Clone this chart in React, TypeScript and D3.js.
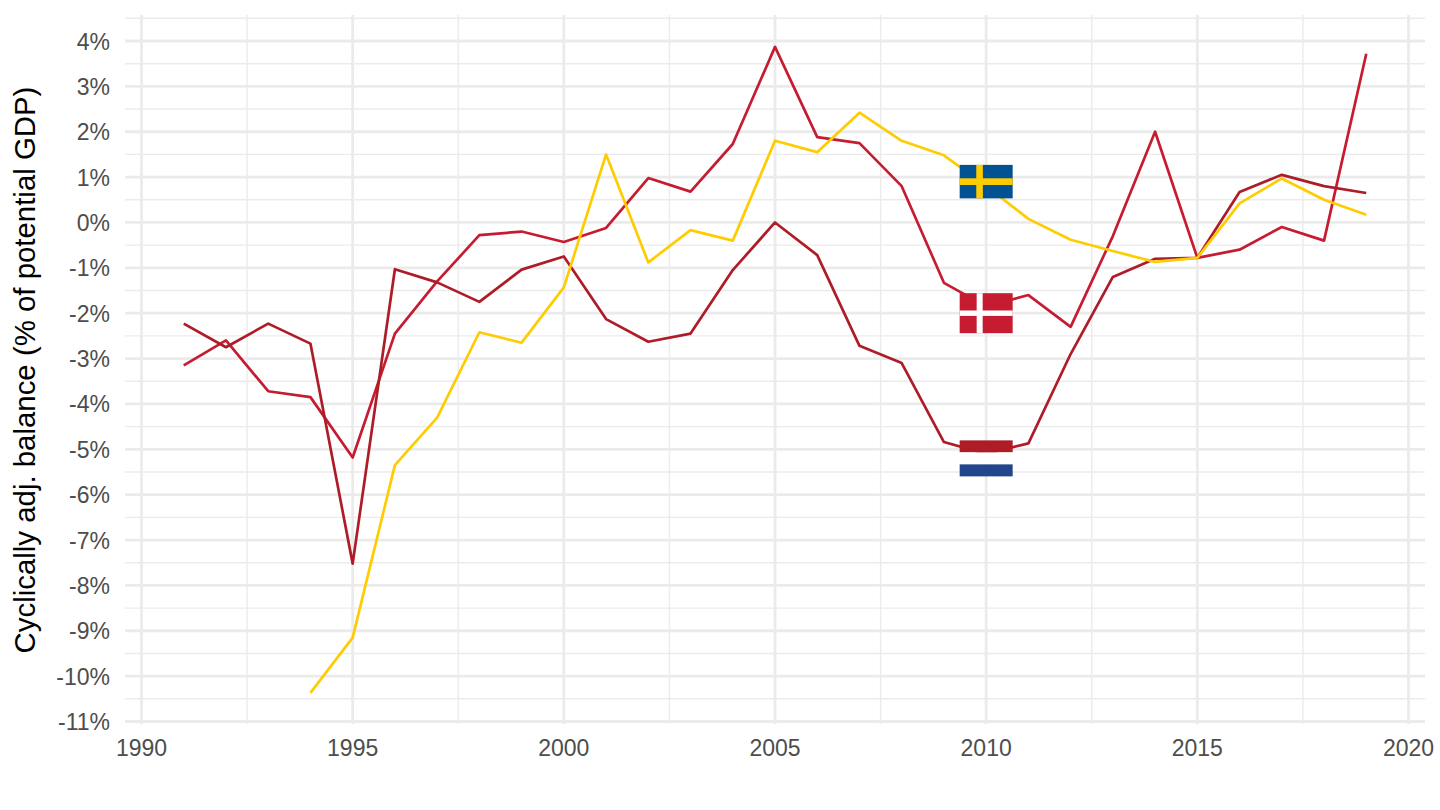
import * as d3 from "d3";
import { useEffect, useRef } from "react";

const years = d3.range(1991, 2020);
const denmark = [-3.15, -2.6, -3.72, -3.85, -5.18, -2.45, -1.3, -0.28, -0.2, -0.43, -0.12, 0.98, 0.68, 1.73, 3.87, 1.88, 1.75, 0.8, -1.33, -1.85, -1.6, -2.3, -0.3, 2.0, -0.78, -0.6, -0.1, -0.4, 3.72];
const netherlands = [-2.23, -2.75, -2.23, -2.67, -7.52, -1.03, -1.32, -1.75, -1.04, -0.75, -2.13, -2.63, -2.45, -1.05, 0.0, -0.72, -2.72, -3.1, -4.84, -5.1, -4.87, -2.9, -1.2, -0.8, -0.78, 0.67, 1.05, 0.8, 0.65];
const swedenYears = d3.range(1994, 2020);
const sweden = [-10.37, -9.15, -5.35, -4.3, -2.42, -2.65, -1.43, 1.5, -0.88, -0.17, -0.4, 1.8, 1.55, 2.42, 1.8, 1.48, 0.8, 0.08, -0.38, -0.63, -0.87, -0.78, 0.42, 0.97, 0.5, 0.17];

const xMajor = [1990, 1995, 2000, 2005, 2010, 2015, 2020];
const xMinor = [1992.5, 1997.5, 2002.5, 2007.5, 2012.5, 2017.5];
const yMajor = d3.range(-11, 5);
const yMinor = d3.range(-10.5, 5, 1);

const yLabel = "Cyclically adj. balance (% of potential GDP)";
const flagYear = 2010;
const flagValues = { sweden: 0.9, denmark: -2, netherlands: -5.2 };

const font = "'Liberation Sans', Arial, sans-serif";

export default function App() {
  const ref = useRef<SVGSVGElement | null>(null);

  useEffect(() => {
    draw();
  });

  function draw() {
    const svg = d3.select(ref.current);
    // clean the slate
    svg.selectAll("*").remove();

    const x = d3.scaleLinear().domain([1990, 2020]).range([141.5, 1408.5]);
    const y = d3.scaleLinear().domain([-11, 4]).range([721.5, 41]);
    const panel = { left: 125, right: 1425, top: 15, bottom: 724 };

    // grid
    const grid = svg.append("g").attr("stroke", "#EBEBEB").attr("fill", "none");
    const hLines = (vals: number[], w: number) =>
      grid
        .append("g")
        .selectAll("line")
        .data(vals)
        .enter()
        .append("line")
        .attr("x1", panel.left)
        .attr("x2", panel.right)
        .attr("y1", (d) => y(d))
        .attr("y2", (d) => y(d))
        .attr("stroke-width", w);
    const vLines = (vals: number[], w: number) =>
      grid
        .append("g")
        .selectAll("line")
        .data(vals)
        .enter()
        .append("line")
        .attr("x1", (d) => x(d))
        .attr("x2", (d) => x(d))
        .attr("y1", panel.top)
        .attr("y2", panel.bottom)
        .attr("stroke-width", w);
    hLines(yMinor, 1.4);
    vLines(xMinor, 1.4);
    hLines(yMajor, 2.8);
    vLines(xMajor, 2.8);

    // tick labels
    svg
      .append("g")
      .selectAll("text")
      .data(xMajor)
      .enter()
      .append("text")
      .attr("x", (d) => x(d))
      .attr("y", 755.5)
      .attr("text-anchor", "middle")
      .attr("font-family", font)
      .attr("font-size", 23)
      .attr("fill", "#4D4D4D")
      .text((d) => String(d));

    svg
      .append("g")
      .selectAll("text")
      .data(yMajor)
      .enter()
      .append("text")
      .attr("x", 110)
      .attr("y", (d) => y(d) + 8.5)
      .attr("text-anchor", "end")
      .attr("font-family", font)
      .attr("font-size", 23)
      .attr("fill", "#4D4D4D")
      .text((d) => d + "%");

    // axis title
    svg
      .append("text")
      .attr("transform", "translate(35," + (87 + 653) / 2 + ") rotate(-90)")
      .attr("text-anchor", "middle")
      .attr("font-family", font)
      .attr("font-size", 29.4)
      .attr("fill", "#000000")
      .text(yLabel);

    // the lines
    const line = d3
      .line<[number, number]>()
      .x((d) => x(d[0]))
      .y((d) => y(d[1]));
    const drawSeries = (xs: number[], vals: number[], color: string) =>
      svg
        .append("path")
        .datum(xs.map((d, i) => [d, vals[i]] as [number, number]))
        .attr("fill", "none")
        .attr("stroke", color)
        .attr("stroke-width", 2.7)
        .attr("stroke-linejoin", "round")
        .attr("d", line);
    drawSeries(years, denmark, "#C61C31");
    drawSeries(years, netherlands, "#AE1C28");
    drawSeries(swedenYears, sweden, "#FECC00");

    // flags, centred on the year and value
    const flagW = 53;
    const flag = (value: number, h: number) =>
      svg
        .append("g")
        .attr("transform", "translate(" + (x(flagYear) - flagW / 2) + "," + (y(value) - h / 2) + ")");

    const se = flag(flagValues.sweden, 33.5);
    se.append("rect").attr("width", flagW).attr("height", 33.5).attr("fill", "#005293");
    se.append("rect").attr("x", 16.6).attr("width", 6.6).attr("height", 33.5).attr("fill", "#FECC00");
    se.append("rect").attr("y", 13.4).attr("width", flagW).attr("height", 6.7).attr("fill", "#FECC00");

    const dk = flag(flagValues.denmark, 40);
    dk.append("rect").attr("width", flagW).attr("height", 40).attr("fill", "#C61C31");
    dk.append("rect").attr("x", 17).attr("width", 6).attr("height", 40).attr("fill", "#FFFFFF");
    dk.append("rect").attr("y", 17.3).attr("width", flagW).attr("height", 5.4).attr("fill", "#FFFFFF");

    const nl = flag(flagValues.netherlands, 36);
    nl.append("rect").attr("width", flagW).attr("height", 12).attr("fill", "#AE1C28");
    nl.append("rect").attr("y", 12).attr("width", flagW).attr("height", 12).attr("fill", "#FFFFFF");
    nl.append("rect").attr("y", 24).attr("width", flagW).attr("height", 12).attr("fill", "#21468B");
  }

  return (
    <svg
      ref={ref}
      width={1440}
      height={810}
      style={{ position: "absolute", left: 0, top: 0, background: "#FFFFFF" }}
    ></svg>
  );
}
